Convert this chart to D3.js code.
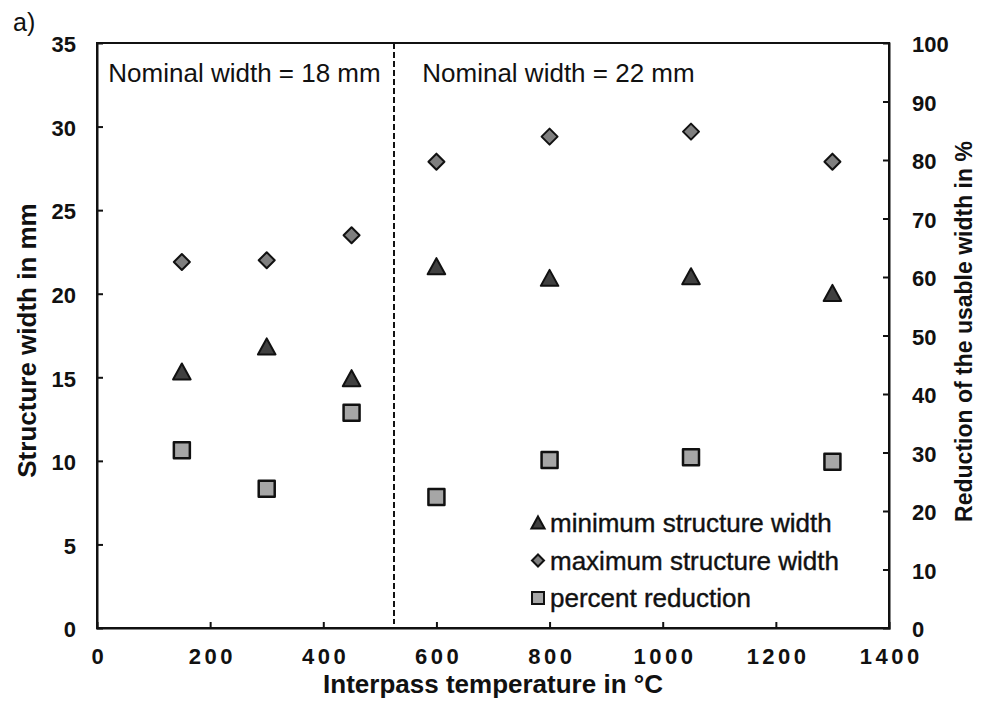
<!DOCTYPE html>
<html><head><meta charset="utf-8">
<script src="https://cdn.jsdelivr.net/npm/d3@7"></script>
<style>body{margin:0;background:#fff}svg{display:block}text{font-family:"Liberation Sans",Arial,sans-serif;fill:#111}</style>
</head><body><svg id="c" width="988" height="711"></svg>
<script>
const temps = [150, 300, 450, 600, 800, 1050, 1300];
const minWidth = [15.3, 16.8, 14.9, 21.6, 20.9, 21.0, 20.0];
const maxWidth = [21.9, 22.0, 23.5, 27.9, 29.4, 29.7, 27.9];
const percentReduction = [30.4, 23.8, 36.8, 22.4, 28.7, 29.2, 28.4];
const xTicks = [0, 200, 400, 600, 800, 1000, 1200, 1400];
const yLeftTicks = [0, 5, 10, 15, 20, 25, 30, 35];
const yRightTicks = [0, 10, 20, 30, 40, 50, 60, 70, 80, 90, 100];
const dividerTemp = 525;
const regionLabels = [{t: 20, text: "Nominal width = 18 mm"}, {t: 575, text: "Nominal width = 22 mm"}];
const legendItems = ["minimum structure width", "maximum structure width", "percent reduction"];

const svg = d3.select("#c");
const L = 97, R = 889, T = 43, B = 628;
const x = d3.scaleLinear().domain([0, 1400]).range([L, R]);
const yL = d3.scaleLinear().domain([0, 35]).range([B, T]);
const yR = d3.scaleLinear().domain([0, 100]).range([B, T]);

// frame
svg.append("rect").attr("x", L).attr("y", T).attr("width", R - L).attr("height", B - T)
  .attr("fill", "none").attr("stroke", "#111").attr("stroke-width", 2);

// axes (inward ticks)
const ax = svg.append("g").attr("transform", `translate(0,${B})`)
  .call(d3.axisBottom(x).tickValues(xTicks).tickSize(-6).tickPadding(23).tickFormat(d3.format("d")));
const ayl = svg.append("g").attr("transform", `translate(${L},0)`)
  .call(d3.axisLeft(yL).tickValues(yLeftTicks).tickSize(-6).tickPadding(21));
const ayr = svg.append("g").attr("transform", `translate(${R},0)`)
  .call(d3.axisRight(yR).tickValues(yRightTicks).tickSize(-6).tickPadding(23));
[ax, ayl, ayr].forEach(g => {
  g.select(".domain").attr("stroke", "#111").attr("stroke-width", 2);
  g.selectAll(".tick line").attr("stroke", "#111").attr("stroke-width", 2);
  g.selectAll(".tick text").attr("font-family", "Liberation Sans, Arial, sans-serif")
    .attr("font-size", 22).attr("font-weight", "bold").attr("fill", "#111");
});
ax.selectAll(".tick text").style("letter-spacing", "3.5px").attr("dx", 1.75).attr("dy", "0.6em");
ax.selectAll(".tick").filter(d => d === 0 || d === 1400).select("line").remove();
ayl.selectAll(".tick").filter(d => d === 0 || d === 35).select("line").remove();
ayr.selectAll(".tick").filter(d => d === 0 || d === 100).select("line").remove();
ayr.selectAll(".tick text").attr("dy", "0.4em");
ayl.selectAll(".tick text").attr("dy", "0.4em");

// divider
svg.append("line").attr("x1", x(dividerTemp)).attr("x2", x(dividerTemp))
  .attr("y1", T).attr("y2", B - 4).attr("stroke", "#111").attr("stroke-width", 2)
  .attr("stroke-dasharray", "6,3");

// region labels
regionLabels.forEach(r => svg.append("text").attr("x", x(r.t)).attr("y", 82)
  .attr("font-size", 26).text(r.text));

// titles
svg.append("text").attr("x", 13).attr("y", 31).attr("font-size", 25).text("a)");
svg.append("text").attr("x", (L + R) / 2).attr("y", 693).attr("text-anchor", "middle")
  .attr("font-size", 26).attr("font-weight", "bold").text("Interpass temperature in °C");
svg.append("text").attr("transform", `translate(36,${(T + B) / 2 + 5}) rotate(-90)`).attr("text-anchor", "middle")
  .attr("font-size", 26).attr("font-weight", "bold").text("Structure width in mm");
svg.append("text").attr("transform", `translate(972,${(T + B) / 2 - 4}) rotate(-90)`).attr("text-anchor", "middle")
  .attr("font-size", 23).attr("font-weight", "bold").text("Reduction of the usable width in %");

// markers
const triPath = s => `M0,${-s * 0.55}L${s * 0.55},${s * 0.45}L${-s * 0.55},${s * 0.45}Z`;
const diaPath = s => `M0,${-s / 2}L${s / 2},0L0,${s / 2}L${-s / 2},0Z`;
const sqPath = s => `M${-s / 2},${-s / 2}h${s}v${s}h${-s}Z`;
const styles = [
  {path: triPath, fill: "#404040", size: 16, sw: 2},
  {path: diaPath, fill: "#7f7f7f", size: 16, sw: 2},
  {path: sqPath, fill: "#a6a6a6", size: 16, sw: 2.5}
];
const series = [
  temps.map((t, i) => [x(t), yL(minWidth[i])]),
  temps.map((t, i) => [x(t), yL(maxWidth[i])]),
  temps.map((t, i) => [x(t), yR(percentReduction[i])])
];
series.forEach((pts, k) => {
  svg.append("g").selectAll("path").data(pts).join("path")
    .attr("transform", d => `translate(${d[0]},${d[1]})`)
    .attr("d", styles[k].path(styles[k].size)).attr("fill", styles[k].fill)
    .attr("stroke", "#111").attr("stroke-width", styles[k].sw).attr("stroke-linejoin", "round");
});

// legend
legendItems.forEach((name, k) => {
  const cy = 523 + k * 37.5;
  svg.append("path").attr("transform", `translate(538,${cy})`)
    .attr("d", styles[k].path(12)).attr("fill", styles[k].fill)
    .attr("stroke", "#111").attr("stroke-width", 2);
  svg.append("text").attr("x", 550).attr("y", cy + 9).attr("font-size", 26)
    .style("stroke", "#111").style("stroke-width", 0.4).text(name);
});
</script></body></html>
